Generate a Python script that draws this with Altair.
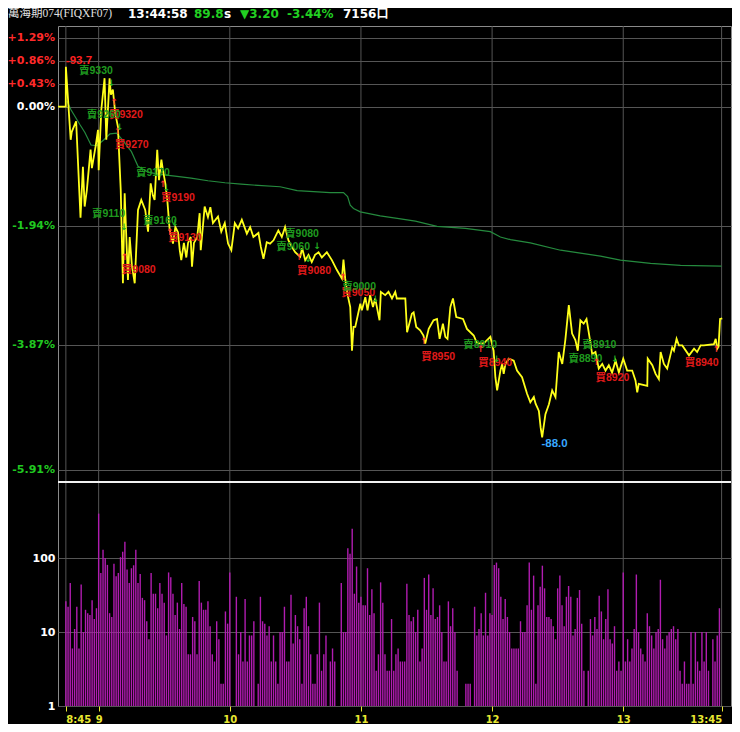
import altair as alt
import pandas as pd

REF_PRICE = 93.0  # previous close = 0.00%

# ---------------- data ----------------
price_series = [
    (-3.6, 93.00), (-0.05, 93.00), (0.0, 93.70), (0.9, 93.18), (2.2, 92.50), (2.7, 92.62), (4.7, 92.78),
    (6.7, 91.32), (7.8, 92.09), (8.6, 91.49), (9.6, 91.74), (11.3, 92.35), (11.9, 92.07), (13.7, 92.42),
    (14.7, 92.65), (15.0, 92.04), (16.2, 92.95), (17.7, 93.50), (18.5, 92.50), (20.0, 93.50), (20.6, 93.21),
    (21.5, 93.30), (22.6, 92.90), (23.8, 92.70), (25.1, 91.74), (26.1, 90.33), (26.9, 91.69), (27.7, 90.98),
    (28.4, 90.38), (29.2, 91.03), (30.2, 90.60), (31.5, 90.33), (33.0, 91.44), (34.5, 91.59), (36.3, 91.44),
    (37.6, 91.11), (38.8, 91.84), (39.8, 91.66), (40.6, 91.59), (41.8, 92.35), (42.6, 91.89), (43.7, 92.20),
    (44.4, 92.04), (45.5, 91.84), (46.4, 91.59), (47.5, 91.13), (49.0, 90.93), (50.1, 91.18), (51.3, 91.10),
    (52.1, 90.83), (52.8, 90.68), (54.0, 90.94), (55.1, 90.72), (55.9, 90.94), (57.1, 91.03), (57.7, 90.58),
    (58.6, 90.94), (60.1, 91.03), (61.2, 91.39), (61.7, 90.83), (63.5, 91.49), (65.0, 91.33), (66.1, 91.48),
    (67.3, 91.24), (69.6, 91.34), (71.1, 91.11), (72.7, 91.24), (74.2, 90.93), (75.7, 90.83), (77.3, 91.24),
    (78.8, 91.16), (80.5, 91.29), (82.8, 91.08), (84.3, 91.18), (85.8, 91.03), (88.1, 91.09), (89.2, 90.88),
    (90.4, 90.70), (91.9, 90.95), (93.4, 90.93), (95.0, 90.98), (97.2, 91.13), (98.8, 91.03), (100.3, 91.18),
    (101.8, 90.98), (103.4, 90.88), (104.9, 90.80), (107.2, 90.73), (108.1, 90.86), (109.5, 90.68),
    (111.0, 90.76), (112.5, 90.65), (114.0, 90.76), (115.6, 90.80), (117.1, 90.72), (119.4, 90.80),
    (121.7, 90.68), (124.0, 90.53), (126.3, 90.40), (127.0, 90.69), (127.8, 90.40), (128.8, 90.17),
    (130.1, 89.97), (130.9, 89.31), (131.6, 89.67), (132.4, 89.67), (134.7, 90.02), (135.4, 89.92),
    (137.0, 90.12), (138.0, 89.92), (139.2, 90.15), (140.5, 89.97), (141.5, 90.10), (142.3, 89.97),
    (143.5, 89.77), (144.1, 90.20), (146.1, 90.15), (147.6, 90.20), (149.2, 90.10), (150.7, 90.20),
    (151.4, 90.10), (155.3, 90.10), (156.1, 89.59), (158.3, 89.87), (159.1, 89.89), (160.3, 89.67),
    (162.1, 89.62), (163.6, 89.54), (164.4, 89.42), (166.0, 89.64), (168.2, 89.77), (169.8, 89.79),
    (171.0, 89.49), (172.5, 89.72), (173.6, 89.52), (174.6, 89.49), (175.9, 89.97), (177.1, 90.10),
    (178.6, 89.82), (181.7, 89.79), (183.5, 89.64), (186.6, 89.54), (188.1, 89.42), (191.2, 89.42),
    (192.7, 89.47), (194.2, 89.52), (195.7, 89.31), (196.5, 88.91), (197.3, 88.71), (198.8, 89.01),
    (199.6, 89.11), (200.3, 88.96), (201.1, 89.11), (202.6, 89.19), (204.9, 89.16), (206.4, 89.01),
    (208.7, 88.91), (211.0, 88.66), (212.5, 88.53), (214.1, 88.61), (214.9, 88.51), (216.4, 88.40),
    (217.2, 88.15), (217.9, 88.00), (219.4, 88.35), (221.0, 88.50), (222.5, 88.71), (224.0, 88.61),
    (225.5, 89.29), (227.1, 89.11), (228.5, 89.47), (230.1, 90.00), (231.6, 89.57), (233.1, 89.47),
    (234.2, 89.31), (235.4, 89.77), (236.9, 89.72), (238.2, 89.79), (239.2, 89.59), (240.8, 89.26),
    (242.3, 89.29), (243.8, 89.04), (245.4, 89.11), (246.9, 89.01), (248.4, 89.09), (249.9, 88.98),
    (251.5, 89.16), (253.0, 88.98), (255.0, 89.19), (256.8, 89.01), (259.1, 89.01), (260.6, 88.86),
    (261.4, 88.68), (262.1, 88.81), (266.0, 88.78), (266.2, 89.19), (268.3, 89.09), (269.8, 88.96),
    (271.3, 88.88), (272.1, 89.29), (273.6, 89.11), (275.1, 89.04), (277.4, 89.36), (278.2, 89.31),
    (279.4, 89.49), (280.5, 89.39), (282.0, 89.39), (285.1, 89.24), (287.4, 89.34), (288.8, 89.29),
    (290.4, 89.39), (291.9, 89.39), (296.5, 89.41), (297.3, 89.49), (298.0, 89.34), (298.6, 89.37),
    (299.3, 89.79), (300.3, 89.80),
]

avg_series = [
    (0.5, 93.10), (2.4, 92.95), (6.4, 92.73), (8.7, 92.61), (11.5, 92.42), (14.2, 92.41), (17.4, 92.50),
    (20.2, 92.59), (23.2, 92.60), (25.6, 92.51), (30.0, 92.32), (33.0, 92.10), (37.6, 92.01), (42.1, 91.98),
    (49.9, 91.95), (57.3, 91.92), (65.0, 91.88), (72.8, 91.85), (80.2, 91.83), (87.9, 91.81), (98.0, 91.79),
    (105.8, 91.73), (120.9, 91.70), (127.0, 91.70), (128.9, 91.64), (130.1, 91.51), (131.6, 91.46),
    (134.7, 91.41), (143.8, 91.35), (151.6, 91.31), (159.9, 91.27), (169.8, 91.19), (182.8, 91.16),
    (194.2, 91.11), (198.8, 91.03), (203.4, 90.99), (212.5, 90.94), (226.3, 90.83), (244.6, 90.74),
    (253.7, 90.68), (267.5, 90.63), (281.2, 90.60), (300.0, 90.59),
]

# volume per minute from 8:45 (0 = no trade)
vol_values = [
    26, 22, 46, 6, 11, 22, 6, 44, 10, 20, 18, 17, 27, 15, 21, 400, 63, 130, 100, 81,
    18, 16, 84, 57, 63, 103, 122, 167, 70, 46, 73, 80, 130, 46, 61, 29, 27, 14, 8, 63,
    33, 33, 21, 46, 33, 25, 9, 64, 55, 33, 17, 25, 11, 46, 24, 22, 5, 5, 16, 14,
    5, 49, 25, 20, 20, 26, 12, 5, 4, 14, 8, 2, 2, 19, 13, 64, 0, 0, 30, 5,
    10, 4, 28, 4, 9, 9, 14, 0, 2, 30, 14, 13, 9, 12, 4, 9, 4, 2, 10, 10,
    22, 4, 4, 32, 7, 17, 12, 8, 2, 21, 30, 12, 5, 2, 2, 5, 25, 3, 5, 9,
    0, 4, 6, 4, 0, 0, 46, 10, 10, 136, 115, 250, 33, 77, 25, 30, 23, 23, 73, 17,
    38, 18, 3, 5, 47, 25, 5, 3, 3, 15, 3, 5, 6, 4, 4, 4, 45, 17, 14, 16,
    10, 20, 4, 6, 54, 20, 60, 17, 39, 15, 16, 23, 10, 4, 4, 26, 12, 21, 10, 3,
    0, 0, 0, 2, 2, 2, 0, 22, 9, 11, 18, 9, 34, 9, 18, 17, 81, 87, 73, 30,
    15, 28, 16, 10, 6, 6, 6, 6, 14, 10, 10, 23, 87, 20, 58, 2, 23, 41, 79, 39,
    16, 16, 15, 12, 8, 39, 58, 23, 12, 30, 42, 30, 9, 11, 29, 37, 13, 3, 0, 3,
    15, 9, 16, 11, 31, 19, 8, 15, 38, 8, 7, 12, 3, 4, 3, 64, 4, 8, 4, 6,
    11, 60, 10, 6, 5, 4, 18, 12, 9, 6, 10, 11, 51, 8, 6, 9, 10, 11, 12, 8,
    11, 3, 2, 4, 2, 2, 10, 2, 10, 4, 3, 10, 4, 10, 3, 0, 8, 4, 9, 21,
]

sig_text = ["賣9330", "賣9260", "買9320", "買9270", "賣9170", "買9190", "賣9110", "賣9160",
            "買9130", "買9080", "賣9080", "賣9060", "買9080", "買9050", "賣9000", "買8950",
            "賣8910", "買8940", "賣8910", "賣8890", "買8920", "買8940"]
sig_minute = [6.0, 9.6, 19.7, 22.4, 32.1, 43.5, 11.9, 35.3, 46.7, 25.6, 100.3, 96.2, 105.8,
              126.0, 126.4, 162.6, 181.8, 188.7, 236.3, 229.9, 242.3, 283.1]
sig_price = [93.63, 92.88, 92.88, 92.42, 92.00, 91.62, 91.38, 91.27, 91.01, 90.53, 91.08, 90.88,
             90.51, 90.19, 90.27, 89.22, 89.39, 89.12, 89.39, 89.18, 88.90, 89.12]

arrow_minute = [20.9, 22.1, 24.7, 23.9, 44.5, 46.0, 26.6, 27.0, 49.9, 47.6, 115.0, 110.9, 106.8,
                126.9, 141.7, 163.8, 197.1, 189.8, 251.2, 242.8, 297.7]
arrow_price = [93.42, 93.08, 92.70, 92.63, 91.83, 91.77, 91.18, 90.72, 91.24, 91.10, 90.89, 90.70,
               90.72, 90.42, 90.09, 89.45, 89.19, 89.33, 89.19, 89.14, 89.33]
arrow_dir = ["↓", "↑", "↓", "↑", "↑", "↓", "↓", "↑", "↓", "↑", "↓", "↓", "↑", "↑", "↓", "↑",
             "↓", "↑", "↓", "↑", "↑"]

hilo_text = ["-93.7", "-88.0"]
hilo_minute = [0.0, 217.6]
hilo_price = [93.80, 87.90]

pct_ticks = [1.29, 0.86, 0.43, 0.00, -1.94, -3.87, -5.91]
time_ticks = [0, 15, 75, 135, 195, 255, 300]
time_labels = ["8:45", "9", "10", "11", "12", "13", "13:45"]
vol_ticks = [1, 10, 100]

# ---------------- styling / layout ----------------
W, H = 673, 680
PRICE_BOTTOM = 456
GRID = "#555555"
YELLOW = "#e8e832"
RED = "#ff2a2a"
GREEN = "#20c820"
FONT = "DejaVu Sans, Noto Sans CJK TC"
ANN_FONT = "Liberation Sans, Noto Sans CJK TC"

x_label_expr = "''"
for v, l in reversed(list(zip(time_ticks, time_labels))):
    x_label_expr = f"datum.value == {v} ? '{l}' : {x_label_expr}"

x_axis = alt.Axis(values=time_ticks, labelExpr=x_label_expr, title=None, grid=False,
                  domain=False, ticks=True, tickColor=YELLOW, tickSize=5, labelColor=YELLOW,
                  labelFont="DejaVu Sans", labelFontWeight="bold", labelFontSize=10, labelPadding=3,
                  labelFlush=False, labelOverlap=False,
                  labelAlign={"expr": f"datum.value <= {time_ticks[0]} ? 'left' : (datum.value >= {time_ticks[-1]} ? 'right' : 'center')"})
x_scale = alt.Scale(domain=[-3.6, 304.3], nice=False, zero=False)
X = alt.X("minute:Q", scale=x_scale, axis=x_axis)

price_scale = alt.Scale(domain=[-6.102, 0, 1.523], range=[PRICE_BOTTOM, 80.7, 0], nice=False, zero=False)
price_axis = alt.Axis(values=pct_ticks, labels=False, ticks=False, domain=False, grid=True,
                      gridColor=GRID, title=None, orient="left")
YP = alt.Y("pct:Q", scale=price_scale, axis=price_axis)
pct_calc = f"(datum.price - {REF_PRICE}) / {REF_PRICE} * 100"

price_df = pd.DataFrame(price_series, columns=["minute", "price"])
avg_df = pd.DataFrame(avg_series, columns=["minute", "price"])
sig_df = pd.DataFrame({"minute": sig_minute, "price": sig_price, "text": sig_text})
arrow_df = pd.DataFrame({"minute": arrow_minute, "price": arrow_price, "text": arrow_dir})
hilo_df = pd.DataFrame({"minute": hilo_minute, "price": hilo_price, "text": hilo_text})
ylab_df = pd.DataFrame({
    "pct": pct_ticks,
    "label": [(f"+{v:.2f}%" if v > 0 else f"{v:.2f}%") for v in pct_ticks],
    "color": [(RED if v > 0 else ("#ffffff" if v == 0 else GREEN)) for v in pct_ticks],
})
vol_df = pd.DataFrame({"minute": list(range(len(vol_values))), "vol": vol_values})
vgrid_df = pd.DataFrame({"minute": time_ticks})

vgrid = alt.Chart(vgrid_df).mark_rule(color=GRID, strokeWidth=1).encode(x=X)

avg_line = alt.Chart(avg_df).transform_calculate(pct=pct_calc).mark_line(
    color="#258a3e", strokeWidth=1.2).encode(x=X, y=YP)
price_line = alt.Chart(price_df).transform_calculate(pct=pct_calc).mark_line(
    color="#ffff1a", strokeWidth=1.8).encode(x=X, y=YP)


def sig_layer(df, color, size=10.5):
    return alt.Chart(df).transform_calculate(pct=pct_calc).mark_text(
        align="left", baseline="middle", font=ANN_FONT, fontWeight="bold", fontSize=size, color=color
    ).encode(x=X, y=YP, text="text:N")


buy_txt = sig_layer(sig_df[sig_df["text"].str.startswith("買")], "#e01a1a")
sell_txt = sig_layer(sig_df[sig_df["text"].str.startswith("賣")], "#1f9a1f")
arrow_up = alt.Chart(arrow_df[arrow_df["text"] == "↑"]).transform_calculate(pct=pct_calc).mark_text(
    align="center", baseline="middle", font="DejaVu Sans", fontWeight="bold", fontSize=9, color="#ff3030"
).encode(x=X, y=YP, text="text:N")
arrow_dn = alt.Chart(arrow_df[arrow_df["text"] == "↓"]).transform_calculate(pct=pct_calc).mark_text(
    align="center", baseline="middle", font="DejaVu Sans", fontWeight="bold", fontSize=9, color="#22b022"
).encode(x=X, y=YP, text="text:N")
hi_txt = alt.Chart(hilo_df.iloc[[0]]).transform_calculate(pct=pct_calc).mark_text(
    align="left", baseline="middle", font="Liberation Sans", fontWeight="bold", fontSize=11.5, color="#ff2020"
).encode(x=X, y=YP, text="text:N")
lo_txt = alt.Chart(hilo_df.iloc[[1]]).transform_calculate(pct=pct_calc).mark_text(
    align="left", baseline="middle", font="Liberation Sans", fontWeight="bold", fontSize=11.5, color="#38a8ff"
).encode(x=X, y=YP, text="text:N")
ylabels = alt.Chart(ylab_df).mark_text(
    align="right", baseline="middle", font="DejaVu Sans", fontWeight="bold", fontSize=11
).encode(x=alt.value(-3), y=YP, text="label:N", color=alt.Color("color:N", scale=None))

price_group = alt.layer(avg_line, price_line, buy_txt, sell_txt, arrow_up, arrow_dn, hi_txt, lo_txt, ylabels)

vol_scale = alt.Scale(type="log", domain=[1, 1070], range=[H, PRICE_BOTTOM], nice=False)
vol_axis = alt.Axis(values=vol_ticks, format="d", labelColor="#ffffff", labelFont="DejaVu Sans",
                    labelFontWeight="bold", labelFontSize=11, ticks=False, domain=False, grid=True,
                    gridColor=GRID, labelPadding=3, title=None, orient="left")
YV = alt.Y("vol:Q", scale=vol_scale, axis=vol_axis)
bars = alt.Chart(vol_df).transform_filter("datum.vol > 0").mark_rule(
    color="#b01cb0", strokeWidth=1.4).encode(x=X, y=YV, y2=alt.datum(1))
separator = alt.Chart(pd.DataFrame({"v": [1070]})).mark_rule(color="#f2f2f2", strokeWidth=2).encode(
    y=alt.Y("v:Q", scale=vol_scale, axis=vol_axis))
vol_group = alt.layer(bars, separator)

# header line
header_parts = [
    ("萬海期074(FIQXF07)", 8, "#e0e0e0", "normal", "Liberation Serif, Noto Sans CJK TC", 11.5),
    ("13:44:58", 128, "#ffffff", "bold", "DejaVu Sans", 12),
    ("89.8", 194, "#22d022", "bold", "DejaVu Sans", 12),
    ("s", 224, "#ffffff", "bold", "DejaVu Sans", 12),
    ("▼3.20", 240, "#22d022", "bold", "DejaVu Sans", 12),
    ("-3.44%", 287, "#22d022", "bold", "DejaVu Sans", 12),
    ("7156口", 343, "#ffffff", "bold", FONT, 12),
]
header_layers = []
for txt, px, col, wt, fnt, fs in header_parts:
    header_layers.append(
        alt.Chart(pd.DataFrame({"t": [txt]})).mark_text(
            align="left", baseline="middle", color=col, fontWeight=wt, font=fnt, fontSize=fs
        ).encode(text="t:N", x=alt.value(px - 58), y=alt.value(-12))
    )

chart = alt.layer(vgrid, price_group, vol_group, *header_layers).resolve_scale(y="independent").properties(
    width=W, height=H,
    autosize=alt.AutoSizeParams(type="none"),
    padding={"left": 50, "top": 18, "right": 1, "bottom": 18},
    background="#000000",
).configure_view(stroke="#8a8a8a", strokeWidth=1)

chart.save("out.html", embed_options={"renderer": "svg", "actions": False})
